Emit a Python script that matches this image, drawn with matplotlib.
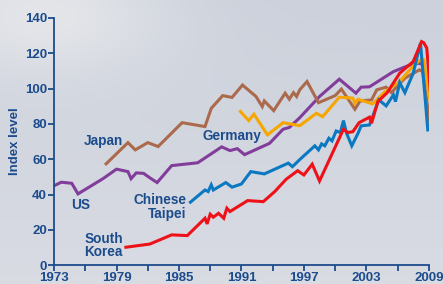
import numpy as np
import matplotlib
matplotlib.use("Agg")
import matplotlib.pyplot as plt

plt.rcParams["font.family"] = ["Liberation Sans", "DejaVu Sans"]

# index levels (year, value)
us_x = [1973.0, 1973.7, 1974.7, 1975.3, 1977.7, 1979.0, 1980.1, 1980.4, 1980.9, 1981.6, 1982.2,
        1982.9, 1984.3, 1986.8, 1989.1, 1989.9, 1990.6, 1991.3, 1993.7, 1995.0, 1995.6, 1996.6,
        1998.5, 2000.4, 2002.0, 2002.5, 2003.3, 2005.6, 2007.2, 2008.1, 2008.4, 2009.2]
us_y = [45, 47, 46.4, 40.4, 49, 54.4, 53, 49, 52.3, 52, 49.5,
        46.8, 56.4, 58, 67, 64.9, 66, 62.6, 69, 77, 78, 83.5,
        95.5, 105.3, 97.4, 100.8, 101, 109.6, 113.4, 114.4, 113.4, 95.5]

japan_x = [1978.0, 1980.1, 1980.8, 1982.0, 1983.0, 1985.3, 1987.5, 1988.1, 1989.2, 1990.1, 1991.1,
           1992.4, 1993.0, 1993.2, 1994.1, 1995.2, 1995.6, 1996.0, 1996.3, 1996.6, 1997.3, 1998.4,
           2000.0, 2000.6, 2001.9, 2002.4, 2003.5, 2004.0, 2004.9, 2005.4, 2006.7, 2008.1, 2008.4, 2009.2]
japan_y = [57.4, 69.4, 65.3, 69.4, 67.2, 80.7, 78.5, 88.8, 96, 95, 102,
           95.5, 89.8, 93, 87.5, 97.4, 94, 97.7, 95.5, 99.3, 104, 92,
           96, 99.7, 88.3, 93, 93.6, 99.3, 100.8, 97.7, 105.9, 110.6, 109.6, 76.6]

germany_x = [1990.9, 1991.7, 1992.2, 1993.5, 1995.0, 1996.6, 1998.2, 1998.8, 2000.4, 2001.7, 2001.9,
             2002.2, 2003.6, 2004.8, 2006.2, 2007.6, 2008.3, 2008.5, 2009.1]
germany_y = [87, 81.9, 85.5, 73.8, 80.7, 79, 86, 84.1, 95.1, 94.6, 91.7,
             94, 91.3, 98.3, 104, 113.4, 116.6, 116.3, 94]

taipei_x = [1986.1, 1987.5, 1987.8, 1988.1, 1988.3, 1989.5, 1990.1, 1991.0, 1991.9, 1993.2, 1995.5,
            1995.9, 1996.6, 1998.05, 1998.4, 1998.7, 1999.0, 1999.4, 1999.7, 2000.1, 2000.5, 2000.8,
            2001.1, 2001.6, 2002.2, 2002.5, 2003.3, 2004.2, 2004.9, 2005.6, 2005.8, 2006.2, 2006.7,
            2007.5, 2008.2, 2008.9]
taipei_y = [35.7, 42.6, 41.7, 45.5, 42.6, 46.8, 44.2, 46, 53, 51.7, 57.8,
            55.8, 59.8, 67.6, 65.3, 68.7, 67.6, 71.9, 70.4, 76, 75.1, 81.9,
            74.7, 67.6, 74.7, 78.9, 79.4, 93.6, 90.2, 96.4, 92.6, 103.4, 97.7,
            108.7, 125.7, 76.6]

korea_x = [1979.9, 1982.2, 1984.3, 1985.8, 1987.5, 1987.7, 1988.0, 1988.3, 1988.8, 1989.3, 1989.6,
           1989.9, 1991.6, 1993.1, 1994.2, 1995.3, 1996.4, 1997.0, 1997.8, 1998.5, 2000.8, 2001.2,
           2001.7, 2002.3, 2003.3, 2003.5, 2004.1, 2005.0, 2006.2, 2007.5, 2008.3, 2008.5, 2008.8, 2009.2]
korea_y = [10.2, 12, 17.2, 16.8, 26.6, 23.4, 28.9, 27.2, 29.4, 26.6, 32.3,
           30.4, 36.6, 36, 41.7, 48.7, 53.5, 51.1, 57.2, 47.7, 77, 75.1,
           75.6, 80.7, 83.8, 80.4, 92.6, 97.7, 108.7, 115.3, 126.6, 126, 123, 94.6]

navy = "#1c4c8c"

fig = plt.figure(figsize=(4.43, 2.84), dpi=100)

# sky-like background: light grey, a bit brighter towards the top-left
bg = fig.add_axes([0, 0, 1, 1], zorder=-10)
yy, xx = np.mgrid[0:1:120j, 0:1:180j]
top = np.array([0.80, 0.82, 0.86])
bottom = np.array([0.85, 0.86, 0.89])
img = top + (bottom - top) * yy[..., None]
glow = np.exp(-((xx - 0.1) ** 2 / 0.08 + (yy - 0.05) ** 2 / 0.05))
img = img + (0.95 - img) * 0.6 * glow[..., None]
bg.imshow(np.clip(img, 0, 1), aspect="auto", extent=[0, 1, 0, 1], interpolation="bilinear")
bg.axis("off")

ax = fig.add_axes([0.122, 0.066, 0.846, 0.871])
ax.patch.set_alpha(0)

lw = 2.2
ax.plot(us_x, us_y, color="#823c9a", lw=lw, solid_joinstyle="miter")
ax.plot(japan_x, japan_y, color="#ab6a4c", lw=lw, solid_joinstyle="miter")
ax.plot(germany_x, germany_y, color="#f7a600", lw=lw, solid_joinstyle="miter")
ax.plot(taipei_x, taipei_y, color="#0b78c2", lw=lw, solid_joinstyle="miter")
ax.plot(korea_x, korea_y, color="#ee1118", lw=lw, solid_joinstyle="miter")

lab = dict(color=navy, fontsize=9.8, fontweight="bold")
ax.text(1979.6, 70.3, "Japan", ha="right", va="center", **lab)
ax.text(1974.6, 34, "US", ha="left", va="center", **lab)
ax.text(1987.3, 73, "Germany", ha="left", va="center", **lab)
ax.text(1985.7, 33, "Chinese\nTaipei", ha="right", va="center", linespacing=0.95, **lab)
ax.text(1979.6, 11.3, "South\nKorea", ha="right", va="center", linespacing=0.95, **lab)

ax.set_xlim(1973, 2009)
ax.set_ylim(0, 140)
ax.set_xticks(range(1973, 2010, 6))
ax.set_xticks(range(1973, 2010, 3), minor=True)
ax.set_yticks(range(0, 141, 20))
for s in ["top", "right"]:
    ax.spines[s].set_visible(False)
for s in ["left", "bottom"]:
    ax.spines[s].set_color(navy)
    ax.spines[s].set_linewidth(1.3)
ax.tick_params(which="both", colors=navy, width=1.3, direction="out")
ax.tick_params(which="major", length=4, labelsize=9.5, pad=1)
ax.tick_params(which="minor", length=4)
for t in ax.get_xticklabels() + ax.get_yticklabels():
    t.set_fontweight("bold")
ax.set_ylabel("Index level", color=navy, fontsize=9.5, fontweight="bold", labelpad=3)

fig.savefig("out.png", dpi=100)
